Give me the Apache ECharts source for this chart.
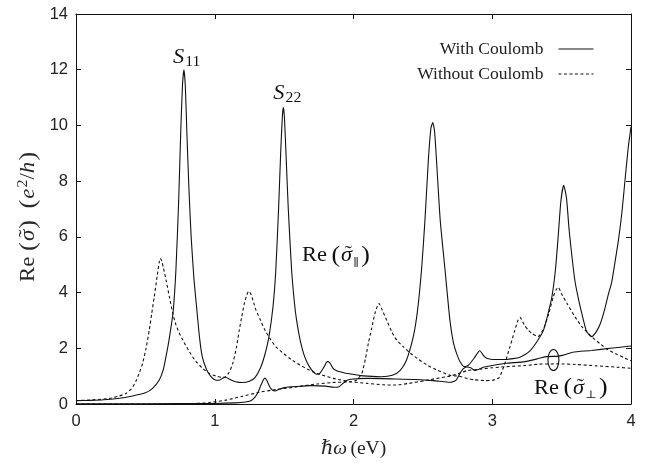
<!DOCTYPE html>
<html>
<head>
<meta charset="utf-8">
<script src="https://cdn.jsdelivr.net/npm/echarts@6/dist/echarts.min.js"></script>
<style>
  html, body { margin: 0; padding: 0; background: #fff; }
  #chart { width: 655px; height: 470px; }
</style>
</head>
<body>
<div id="chart"></div>
<script>
// Photon energy (eV) and Re(sigma) in units of e^2/h for each curve.

// Parallel polarisation, with Coulomb interaction
const parWithE = [0, 0.1, 0.2, 0.3, 0.4, 0.5, 0.55, 0.6, 0.63, 0.66, 0.68, 0.7, 0.72, 0.74, 0.755, 0.768, 0.778, 0.788, 0.8, 0.815, 0.83, 0.85, 0.865, 0.89, 0.91, 0.94, 0.97, 1.0, 1.03, 1.06, 1.08, 1.11, 1.15, 1.2, 1.25, 1.29, 1.33, 1.36, 1.39, 1.42, 1.44, 1.46, 1.475, 1.487, 1.494, 1.502, 1.515, 1.53, 1.554, 1.575, 1.59, 1.615, 1.64, 1.665, 1.69, 1.715, 1.735, 1.76, 1.79, 1.81, 1.83, 1.85, 1.875, 1.93, 1.975, 2.05, 2.1, 2.2, 2.28, 2.335, 2.38, 2.43, 2.46, 2.49, 2.515, 2.54, 2.558, 2.571, 2.584, 2.6, 2.625, 2.66, 2.695, 2.72, 2.744, 2.77, 2.8, 2.83, 2.87, 2.91, 2.94, 2.96, 3.0, 3.1, 3.2, 3.27, 3.33, 3.37, 3.4, 3.43, 3.455, 3.475, 3.495, 3.515, 3.535, 3.555, 3.595, 3.62, 3.645, 3.68, 3.716, 3.75, 3.78, 3.81, 3.84, 3.86, 3.885, 3.91, 3.935, 3.96, 3.98, 4.0];
const parWithS = [0.12, 0.13, 0.15, 0.2, 0.28, 0.4, 0.55, 0.86, 1.25, 2.0, 2.6, 3.3, 4.8, 7.3, 9.8, 11.5, 12.0, 11.4, 9.6, 7.6, 6.0, 4.5, 3.7, 2.4, 1.7, 1.25, 1.0, 0.87, 0.85, 0.93, 0.96, 0.88, 0.8, 0.77, 0.82, 0.95, 1.3, 1.75, 2.4, 3.5, 4.8, 7.0, 9.0, 10.3, 10.65, 10.3, 8.8, 7.0, 4.8, 3.6, 3.0, 2.3, 1.82, 1.5, 1.28, 1.13, 1.07, 1.12, 1.35, 1.52, 1.48, 1.3, 1.2, 1.12, 1.08, 1.02, 1.0, 0.98, 1.03, 1.2, 1.55, 2.4, 3.3, 4.8, 6.6, 8.8, 9.9, 10.1, 9.8, 8.6, 6.6, 4.8, 3.0, 2.2, 1.8, 1.5, 1.34, 1.4, 1.65, 1.91, 1.72, 1.64, 1.6, 1.6, 1.68, 1.9, 2.3, 2.66, 3.2, 3.85, 4.8, 6.0, 7.3, 7.85, 7.4, 6.2, 4.45, 3.8, 3.26, 2.6, 2.42, 2.6, 2.9, 3.4, 4.0, 4.35, 5.1, 5.9, 6.9, 8.2, 9.2, 9.95];

// Parallel polarisation, without Coulomb interaction
const parWithoutE = [0, 0.12, 0.24, 0.3, 0.36, 0.4, 0.43, 0.455, 0.48, 0.505, 0.528, 0.546, 0.564, 0.585, 0.6, 0.608, 0.62, 0.649, 0.675, 0.697, 0.72, 0.745, 0.78, 0.817, 0.86, 0.913, 0.96, 1.01, 1.05, 1.08, 1.105, 1.13, 1.155, 1.177, 1.195, 1.213, 1.23, 1.245, 1.26, 1.28, 1.297, 1.326, 1.357, 1.398, 1.441, 1.494, 1.55, 1.614, 1.67, 1.735, 1.8, 1.855, 1.92, 1.975, 2.02, 2.06, 2.085, 2.107, 2.13, 2.155, 2.175, 2.184, 2.2, 2.24, 2.275, 2.31, 2.36, 2.41, 2.47, 2.53, 2.6, 2.695, 2.755, 2.82, 2.87, 2.95, 3.0, 3.05, 3.08, 3.1, 3.128, 3.16, 3.185, 3.2, 3.23, 3.26, 3.284, 3.33, 3.37, 3.41, 3.44, 3.46, 3.476, 3.5, 3.54, 3.596, 3.65, 3.716, 3.78, 3.836, 3.9, 3.95, 4.0];
const parWithoutS = [0.12, 0.15, 0.2, 0.27, 0.38, 0.55, 0.8, 1.1, 1.46, 2.0, 2.66, 3.25, 3.85, 4.6, 5.1, 5.23, 5.1, 4.45, 3.8, 3.26, 2.85, 2.54, 2.2, 1.88, 1.55, 1.28, 1.1, 1.0, 0.96, 0.98, 1.15, 1.46, 2.0, 2.66, 3.15, 3.6, 3.9, 4.05, 3.95, 3.65, 3.37, 3.05, 2.7, 2.35, 2.05, 1.82, 1.6, 1.4, 1.25, 1.1, 1.0, 0.92, 0.85, 0.8, 0.85, 1.1, 1.6, 2.18, 2.7, 3.26, 3.55, 3.61, 3.45, 3.0, 2.6, 2.3, 2.05, 1.82, 1.6, 1.4, 1.22, 1.03, 1.0, 0.92, 0.87, 0.84, 0.85, 0.95, 1.3, 1.6, 2.06, 2.6, 3.0, 3.11, 2.85, 2.65, 2.54, 2.42, 2.7, 3.3, 3.85, 4.1, 4.19, 3.95, 3.6, 3.13, 2.75, 2.42, 2.15, 1.94, 1.78, 1.66, 1.55];

// Perpendicular polarisation, with Coulomb interaction
const perpWithE = [0, 0.5, 1.0, 1.15, 1.22, 1.26, 1.29, 1.31, 1.335, 1.352, 1.362, 1.375, 1.395, 1.415, 1.435, 1.46, 1.494, 1.55, 1.614, 1.7, 1.8, 1.86, 1.895, 1.92, 1.95, 1.98, 2.1, 2.3, 2.45, 2.575, 2.65, 2.7, 2.74, 2.765, 2.79, 2.815, 2.845, 2.876, 2.9, 2.935, 3.0, 3.1, 3.236, 3.34, 3.39, 3.476, 3.53, 3.58, 3.716, 3.85, 4.0];
const perpWithS = [0.01, 0.01, 0.02, 0.04, 0.07, 0.12, 0.25, 0.4, 0.7, 0.88, 0.93, 0.85, 0.63, 0.5, 0.47, 0.52, 0.58, 0.62, 0.64, 0.66, 0.64, 0.6, 0.62, 0.72, 0.84, 0.89, 0.92, 0.9, 0.88, 0.84, 0.8, 0.78, 0.86, 1.08, 1.26, 1.33, 1.3, 1.2, 1.24, 1.32, 1.38, 1.46, 1.52, 1.64, 1.7, 1.72, 1.78, 1.86, 1.92, 2.0, 2.08];

// Perpendicular polarisation, without Coulomb interaction
const perpWithoutE = [0, 0.7, 0.8, 0.9, 0.96, 1.08, 1.2, 1.32, 1.44, 1.6, 1.735, 1.85, 1.975, 2.1, 2.215, 2.3, 2.4, 2.515, 2.6, 2.695, 2.76, 2.82, 2.91, 3.0, 3.1, 3.236, 3.34, 3.476, 3.6, 3.75, 3.9, 4.0];
const perpWithoutS = [0.0, 0.0, 0.01, 0.03, 0.05, 0.14, 0.28, 0.42, 0.52, 0.62, 0.72, 0.77, 0.79, 0.74, 0.69, 0.68, 0.74, 0.84, 0.92, 1.0, 1.1, 1.2, 1.25, 1.3, 1.34, 1.38, 1.43, 1.44, 1.42, 1.37, 1.32, 1.28];

const legendNames = ['With Coulomb', 'Without Coulomb'];
const xTicks = { min: 0, max: 4, step: 1 };
const yTicks = { min: 0, max: 14, step: 2 };

const pairs = (xs, ys) => xs.map((x, i) => [x, ys[i]]);

const ink = '#111';
const serif = '"Liberation Serif", "DejaVu Serif", serif';
const symFont = '"DejaVu Serif", serif';
const sans = '"Liberation Sans", Arial, sans-serif';
const dash = [3, 2.5];

const baseAxis = {
  type: 'value',
  axisLine: { show: true, onZero: false, lineStyle: { color: ink, width: 1 } },
  axisTick: { show: true, inside: true, length: 5, lineStyle: { color: ink, width: 1 } },
  splitLine: { show: false }
};

const lineSeries = (name, xs, ys, dashed) => ({
  name: name,
  type: 'line',
  data: pairs(xs, ys),
  symbol: 'none',
  showSymbol: false,
  smooth: 0.2,
  silent: true,
  itemStyle: { color: ink },
  lineStyle: { color: ink, width: 1.1, type: dashed ? dash : 'solid' }
});

const chart = echarts.init(document.getElementById('chart'), null, { renderer: 'canvas' });

chart.setOption({
  animation: false,
  backgroundColor: '#fff',
  grid: { left: 76, right: 24, top: 14, bottom: 66 },
  legend: {
    data: legendNames,
    orient: 'vertical',
    right: 56,
    top: 35,
    align: 'right',
    itemWidth: 35,
    itemHeight: 12,
    itemGap: 7,
    selectedMode: false,
    itemStyle: { opacity: 0 },
    lineStyle: { width: 1.1 },
    textStyle: { fontFamily: serif, fontSize: 17.5, color: '#222', padding: [0, 10, 0, 0] }
  },
  xAxis: [
    Object.assign({}, baseAxis, {
      min: xTicks.min, max: xTicks.max, interval: xTicks.step, position: 'bottom',
      axisLabel: { fontFamily: sans, fontSize: 16.5, color: '#222', margin: 9 },
      name: '{i|ℏω} {r|(eV)}',
      nameLocation: 'middle',
      nameGap: 35,
      nameTextStyle: {
        rich: {
          i: { fontFamily: serif, fontStyle: 'italic', fontSize: 19.5, color: '#222' },
          r: { fontFamily: serif, fontSize: 19.5, color: '#222' }
        }
      }
    }),
    Object.assign({}, baseAxis, {
      min: xTicks.min, max: xTicks.max, interval: xTicks.step, position: 'top',
      axisLabel: { show: false }
    })
  ],
  yAxis: [
    Object.assign({}, baseAxis, {
      min: yTicks.min, max: yTicks.max, interval: yTicks.step, position: 'left',
      axisLabel: { fontFamily: sans, fontSize: 16.5, color: '#222', margin: 8 }
    }),
    Object.assign({}, baseAxis, {
      min: yTicks.min, max: yTicks.max, interval: yTicks.step, position: 'right',
      axisLabel: { show: false }
    })
  ],
  series: [
    lineSeries(legendNames[0], parWithE, parWithS, false),
    lineSeries(legendNames[1], parWithoutE, parWithoutS, true),
    lineSeries(legendNames[0], perpWithE, perpWithS, false),
    lineSeries(legendNames[1], perpWithoutE, perpWithoutS, true)
  ]
});

// Typeset small math labels piece by piece (accents, sub/superscripts).
const measureCtx = document.createElement('canvas').getContext('2d');

function mathLabel(pieces, o) {
  let pen = 0;
  let prev = null;
  const items = [];
  pieces.forEach(p => {
    const family = p.family || serif;
    measureCtx.font = (p.italic ? 'italic ' : '') + p.size + 'px ' + family;
    const w = measureCtx.measureText(p.t).width;
    if (p.over && prev) {
      items.push({ t: p.t, x: prev.x + prev.w / 2 - w / 2 + (p.dx || 0), dy: p.dy || 0, p: p, family: family });
    } else {
      pen += p.gap || 0;
      const it = { t: p.t, x: pen, w: w, dy: p.dy || 0, p: p, family: family };
      items.push(it);
      prev = it;
      pen += w;
    }
  });
  const shift = o.align === 'center' ? -pen / 2 : 0;
  return {
    type: 'group', x: o.x, y: o.y, rotation: o.rotation || 0,
    scaleX: o.scaleX || 1, silent: true, z: 10,
    children: items.map(it => ({
      type: 'text', x: it.x + shift, y: it.dy - 0.34 * it.p.size, silent: true,
      style: {
        text: it.t, fontSize: it.p.size, fontFamily: it.family,
        fontStyle: it.p.italic ? 'italic' : 'normal',
        fill: o.color || ink, align: 'left', verticalAlign: 'middle'
      }
    }))
  };
}

const toPx = (x, y) => chart.convertToPixel({ xAxisIndex: 0, yAxisIndex: 0 }, [x, y]);

const peak = (n) => [
  { t: 'S', size: 20, italic: true },
  { t: n, size: 14, dy: 3, gap: 1 }
];
const reSigma = (sub) => [
  { t: 'Re', size: 20 },
  { t: '(', size: 23, gap: 4, dy: 1 },
  { t: 'σ', size: 20, italic: true, gap: 1 },
  { t: '˜', size: 20, over: true, dx: 1.5, dy: -1 },
  { t: sub, size: 11, dy: 4, gap: 1, family: symFont },
  { t: ')', size: 23, gap: 2, dy: 1 }
];
const yTitle = [
  { t: 'Re', size: 20 },
  { t: '(', size: 23, gap: 5, dy: 1 },
  { t: 'σ', size: 20, italic: true, gap: 1 },
  { t: '˜', size: 20, over: true, dx: 1.5, dy: -1 },
  { t: ')', size: 23, gap: 1, dy: 1 },
  { t: '(', size: 23, gap: 10, dy: 1 },
  { t: 'e', size: 20, italic: true, gap: 1 },
  { t: '2', size: 14, dy: -8, gap: 1 },
  { t: '/', size: 20, gap: 0 },
  { t: 'h', size: 20, italic: true },
  { t: ')', size: 23, gap: 1, dy: 1 }
];

const s11 = toPx(0.699, 12.2);
const s22 = toPx(1.422, 10.91);
const rePar = toPx(1.629, 5.06);
const rePerp = toPx(3.301, 0.32);
const ring = toPx(3.441, 1.58);

chart.setOption({
  graphic: [
    mathLabel(peak('11'), { x: s11[0], y: s11[1], scaleX: 1.12 }),
    mathLabel(peak('22'), { x: s22[0], y: s22[1], scaleX: 1.12 }),
    mathLabel(reSigma('∥'), { x: rePar[0], y: rePar[1], scaleX: 1.12 }),
    mathLabel(reSigma('⊥'), { x: rePerp[0], y: rePerp[1], scaleX: 1.12 }),
    mathLabel(yTitle, { x: 36, y: 282, rotation: Math.PI / 2, scaleX: 1.14, color: '#2a2a2a' }),
    {
      type: 'ellipse', silent: true, z: 10,
      shape: { cx: ring[0], cy: ring[1], rx: 5.5, ry: 10.5 },
      style: { fill: 'none', stroke: ink, lineWidth: 1.1 }
    }
  ]
});
</script>
</body>
</html>
